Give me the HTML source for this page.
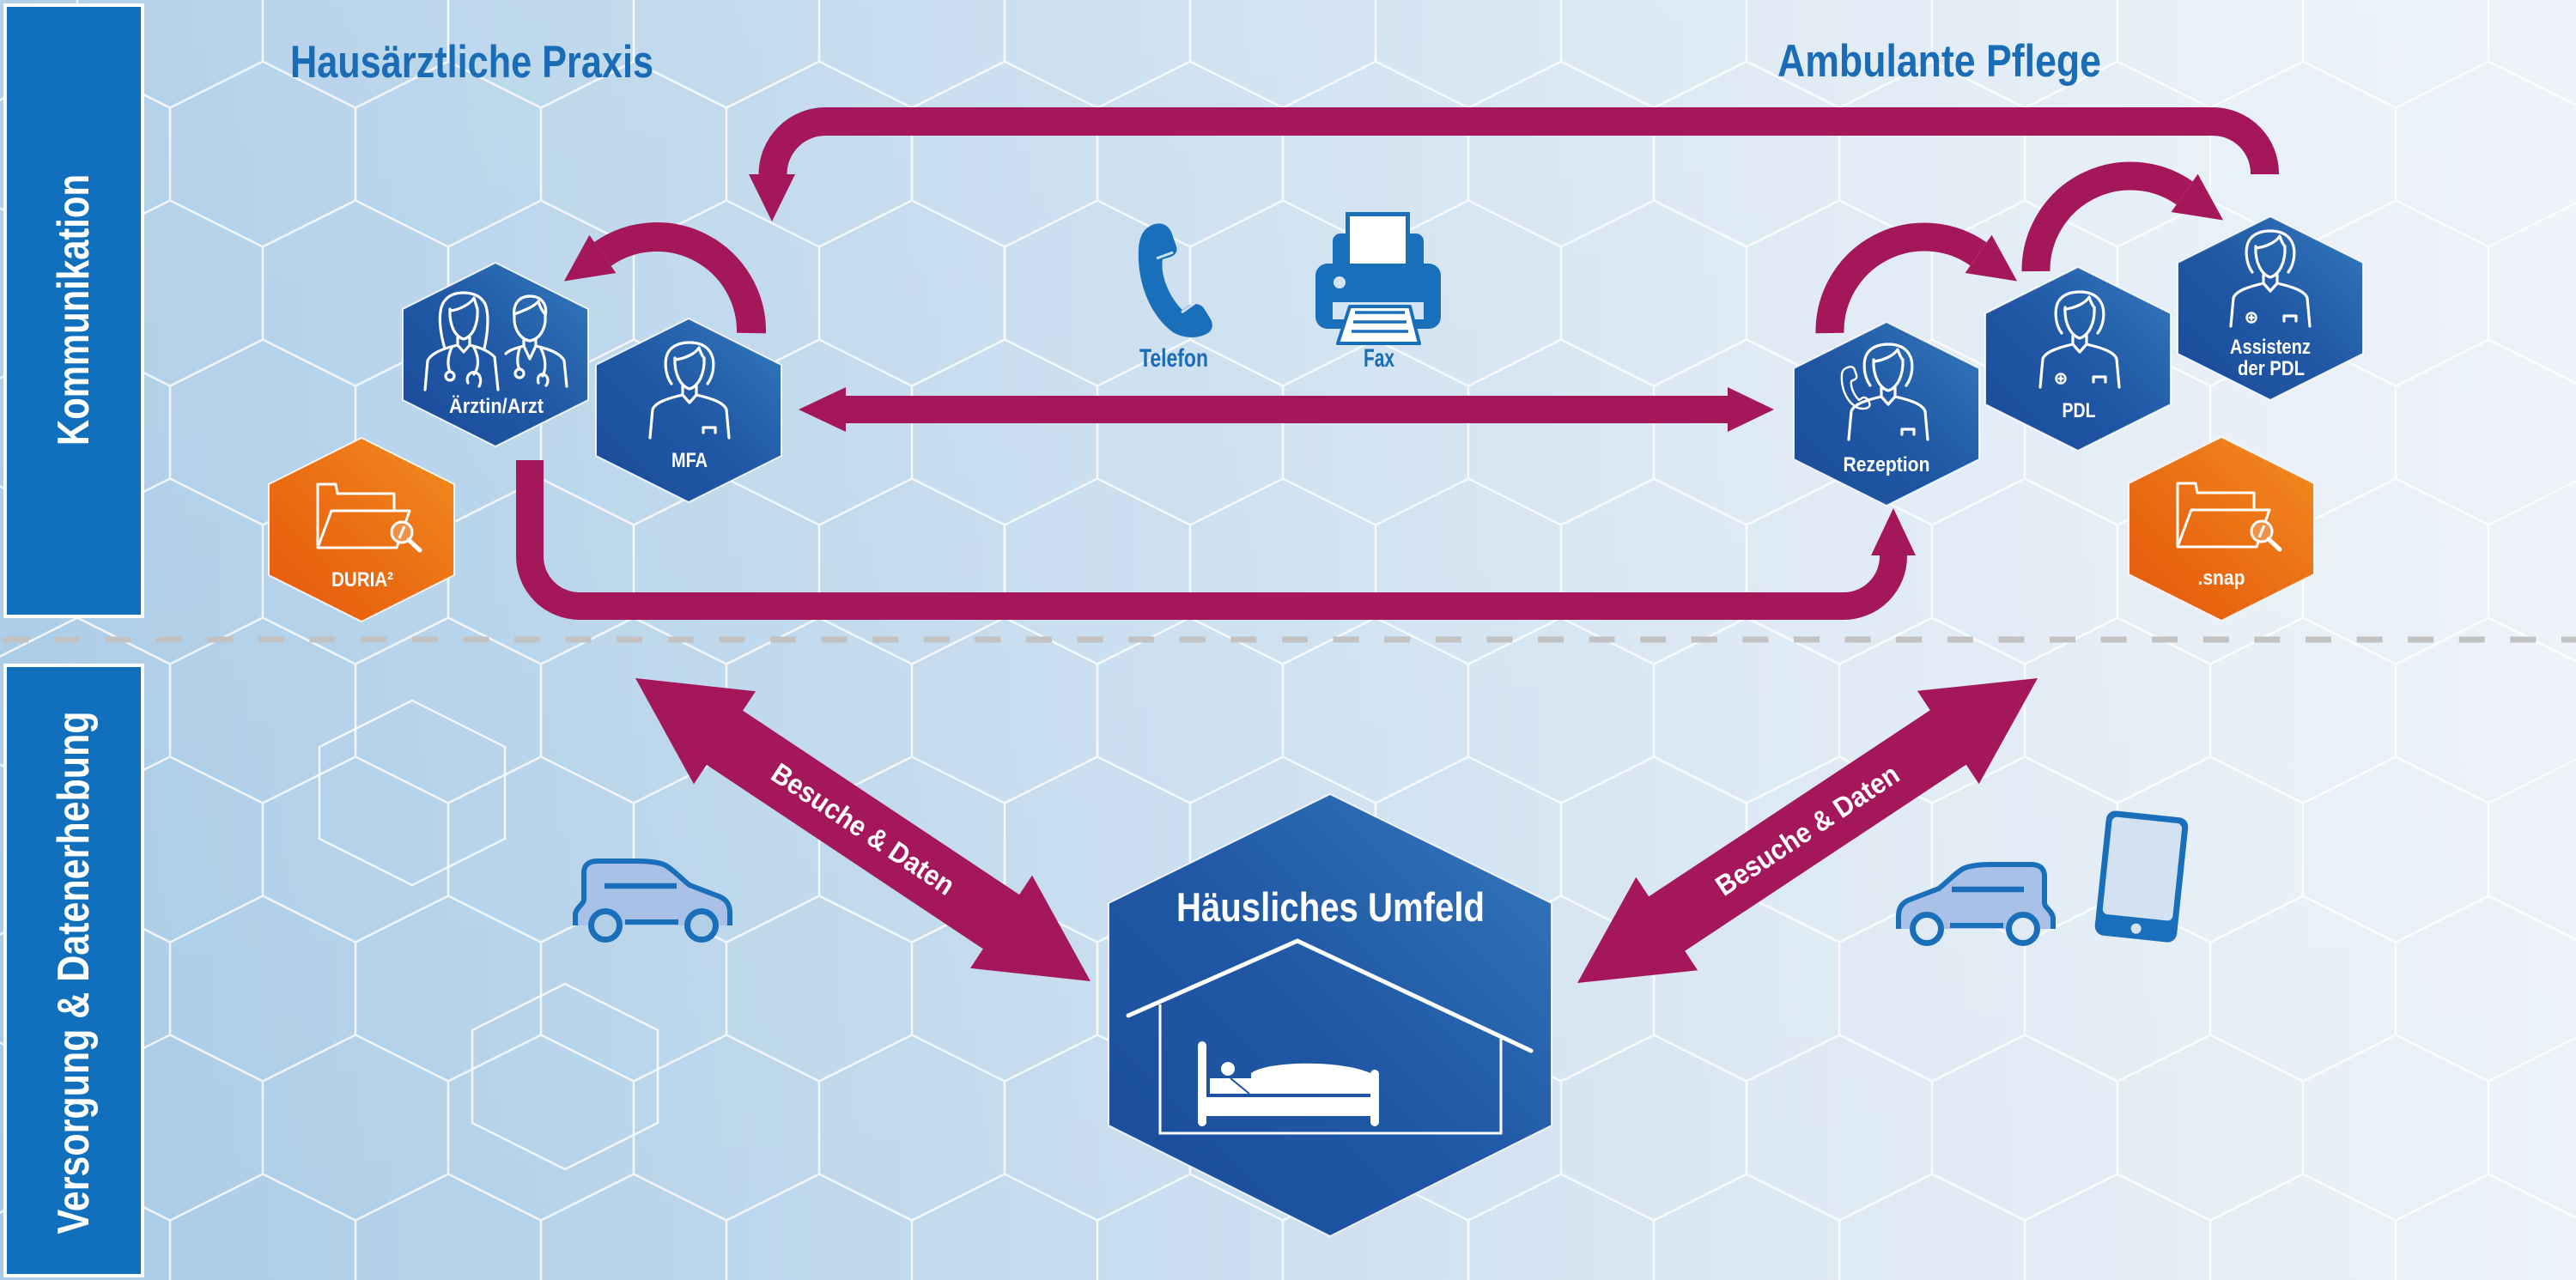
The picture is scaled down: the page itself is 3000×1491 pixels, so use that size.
<!DOCTYPE html>
<html><head><meta charset="utf-8">
<style>
html,body{margin:0;padding:0;width:3000px;height:1491px;overflow:hidden;background:#c4dbee}
svg{display:block}
text{font-family:"Liberation Sans",Arial,sans-serif;font-weight:700}
</style></head>
<body>
<svg width="3000" height="1491" viewBox="0 0 3000 1491" xmlns="http://www.w3.org/2000/svg">
<defs>
  <linearGradient id="bg" x1="0" y1="0" x2="1" y2="0">
    <stop offset="0" stop-color="#a8cae6"/>
    <stop offset="0.23" stop-color="#b8d4ea"/>
    <stop offset="0.5" stop-color="#cde0f0"/>
    <stop offset="0.7" stop-color="#dde9f4"/>
    <stop offset="0.87" stop-color="#e6eef7"/>
    <stop offset="1" stop-color="#edf2f9"/>
  </linearGradient>
  <linearGradient id="bgv" x1="0" y1="0" x2="0" y2="1">
    <stop offset="0" stop-color="#ffffff" stop-opacity="0.12"/>
    <stop offset="1" stop-color="#ffffff" stop-opacity="0"/>
  </linearGradient>
  <linearGradient id="blueHex" x1="1" y1="0" x2="0" y2="1">
    <stop offset="0" stop-color="#3479bd"/>
    <stop offset="0.5" stop-color="#2058a5"/>
    <stop offset="1" stop-color="#1a4c9b"/>
  </linearGradient>
  <linearGradient id="orgHex" x1="1" y1="0" x2="0" y2="1">
    <stop offset="0" stop-color="#f28c20"/>
    <stop offset="0.6" stop-color="#ea6a12"/>
    <stop offset="1" stop-color="#e65a0c"/>
  </linearGradient>
  <pattern id="hx" x="90" y="17.5" width="216" height="324" patternUnits="userSpaceOnUse">
    <path d="M0,0 V54 L108,108 L216,54 V0 M108,108 V216 L0,270 V324 M108,216 L216,270 V324" fill="none" stroke="#ffffff" stroke-width="2.6" stroke-opacity="0.78"/>
  </pattern>
  <g id="nurse" fill="none" stroke="#fff" stroke-width="3.2" stroke-linecap="round" stroke-linejoin="round">
    <path d="M-21,47 C-29,36 -30,18 -24,9 C-18,1 -9,-1 0,-1 C10,-1 19,2 24,10 C30,19 29,36 21,47"/>
    <path d="M-17,17 C-18,36 -10,50 0,53 C10,50 18,36 17,17"/>
    <path d="M-17,19 C-6,18 7,12 11,5 C13,11 15,15 17,17"/>
    <path d="M-8,50 L-8,60 L0,69 L8,60 L8,50"/>
    <path d="M-8,60 C-26,64 -40,69 -43,77 L-46,110 M8,60 C26,64 40,69 43,77 L46,110"/>
    <path d="M16,104 V98 H30 V104"/>
  </g>
  <g id="cross" fill="none" stroke="#fff" stroke-width="2.4">
    <circle cx="-22" cy="100" r="5.5"/>
    <path d="M-25.5,100 H-18.5 M-22,96.5 V103.5"/>
  </g>
  <g id="folder" fill="none" stroke="#fff" stroke-width="3" stroke-linejoin="round">
    <path d="M-51,21 V-53 H-30 L-28,-42 H38 V-22"/>
    <path d="M-51,21 L-35,-22 H56 L41,21 Z"/>
    <circle cx="47" cy="3" r="12" fill="#f0924a"/>
    <path d="M55,12 L68,24" stroke-width="5" stroke-linecap="round"/>
    <path d="M44,10 L50,-4" stroke-width="3"/>
  </g>
  <g id="car">
    <path d="M1,77 L1,62 C1,52 6,46 14,43 L48,30 C58,22 66,13 76,7 C84,3 96,2 110,2 L155,2 C166,2 171,7 171,16 L171,47 C171,52 180,56 181,64 L181,77 Z" fill="#a9c1e6"/>
    <path d="M1,77 L1,62 C1,52 6,46 14,43 L48,30 C58,22 66,13 76,7 C84,3 96,2 110,2 L155,2 C166,2 171,7 171,16 L171,47 C171,52 180,56 181,64 L181,77" fill="none" stroke="#1a6fbb" stroke-width="6" stroke-linejoin="round"/>
    <path d="M63,31 H147" stroke="#1a6fbb" stroke-width="6.5"/>
    <path d="M61,73 H123" stroke="#1a6fbb" stroke-width="6"/>
  </g>
  <path id="phonep" d="M6.62 10.79c1.44 2.83 3.76 5.14 6.59 6.59l2.2-2.2c.27-.27.67-.36 1.02-.24 1.12.37 2.330.57 3.57.57.55 0 1 .45 1 1V20c0 .55-.45 1-1 1-9.39 0-17-7.610-17-17 0-.55.45-1 1-1h3.5c.55 0 1 .45 1 1 0 1.25.2 2.45.57 3.57.11.35.03.74-.25 1.02l-2.2 2.2z"/>
</defs>

<!-- background -->
<rect x="0" y="0" width="3000" height="1491" fill="url(#bg)"/>
<rect x="0" y="0" width="3000" height="1491" fill="url(#bgv)"/>
<rect x="0" y="0" width="3000" height="1491" fill="url(#hx)"/>
<g fill="none" stroke="#fff" stroke-width="2.6" stroke-opacity="0.78">
  <polygon points="480,816 588,870 588,977 480,1031 372,977 372,870"/>
  <polygon points="658,1146 766,1200 766,1308 658,1362 550,1308 550,1200"/>
</g>

<!-- dashed separator -->
<line x1="3" y1="745" x2="3000" y2="745" stroke="#c2c2c2" stroke-width="7" stroke-dasharray="30 29.6"/>

<!-- sidebars -->
<rect x="6" y="6" width="160" height="712" fill="#1170bd" stroke="#fff" stroke-width="4"/>
<rect x="6" y="775" width="160" height="711" fill="#1170bd" stroke="#fff" stroke-width="4"/>
<text transform="translate(103,361) rotate(-90)" x="0" y="0" text-anchor="middle" font-size="52" fill="#fff" textLength="316" lengthAdjust="spacingAndGlyphs">Kommunikation</text>
<text transform="translate(103,1133) rotate(-90)" x="0" y="0" text-anchor="middle" font-size="52" fill="#fff" textLength="609" lengthAdjust="spacingAndGlyphs">Versorgung &amp; Datenerhebung</text>

<!-- titles -->
<text x="549.5" y="90" text-anchor="middle" font-size="53" fill="#1a6cb6" textLength="423" lengthAdjust="spacingAndGlyphs">Hausärztliche Praxis</text>
<text x="2258.5" y="89" text-anchor="middle" font-size="53" fill="#1a6cb6" textLength="377" lengthAdjust="spacingAndGlyphs">Ambulante Pflege</text>

<!-- arrows -->
<g fill="none" stroke="#a4185b" stroke-linecap="butt">
  <path d="M2637.5,203 L2637.5,202 A60.5,60.5 0 0 0 2577,141.5 L961.5,141.5 A61.5,61.5 0 0 0 900,203" stroke-width="33"/>
  <path d="M617,536 L617,648 A58,58 0 0 0 675,706 L2147,706 A58,58 0 0 0 2205,648 L2205,647" stroke-width="32"/>
  <path d="M875,388 A110,110 0 0 0 701.9,295.9" stroke-width="34"/>
  <path d="M2131,388 A110,110 0 0 1 2304.1,295.9" stroke-width="33"/>
  <path d="M2371,316 A110,110 0 0 1 2544.1,224.9" stroke-width="33"/>
</g>
<g fill="#a4185b">
  <polygon points="872,203 926,203 899,258"/>
  <polygon points="2179,647 2231,647 2205,592"/>
  <polygon points="686.4,273.8 717.4,318 656.9,327.5"/>
  <polygon points="2319.6,273.8 2288.6,318 2349.1,327.5"/>
  <polygon points="2559.6,202.8 2528.6,247 2589.1,256.5"/>
  <rect x="984" y="461" width="1029" height="32"/>
  <polygon points="985,451 930,477 985,503"/>
  <polygon points="2012,451 2066,477 2012,503"/>
  <polygon points="740,790 808,913.4 822.9,890.9 1144.9,1105.3 1130,1127.8 1270,1143 1202,1019.6 1187.1,1042.1 865.1,827.7 880,805.2"/>
  <polygon points="2373,790 2304.7,913.2 2289.8,890.7 1962.2,1107.7 1977.1,1130.2 1837,1145 1905.3,1021.8 1920.2,1044.3 2247.8,827.3 2232.9,804.8"/>
</g>
<text transform="translate(1005,966) rotate(33.7)" x="0" y="0" dy="11" text-anchor="middle" font-size="33" fill="#fff" textLength="248" lengthAdjust="spacingAndGlyphs">Besuche &amp; Daten</text>
<text transform="translate(2105,967) rotate(-33.5)" x="0" y="0" dy="11" text-anchor="middle" font-size="33" fill="#fff" textLength="248" lengthAdjust="spacingAndGlyphs">Besuche &amp; Daten</text>

<!-- phone & fax -->
<path d="M1342,262 C1352,258 1360,262 1364,270 L1370,287 C1372,294 1368,298 1361,300 L1354,302 C1351,320 1361,345 1377,361 L1384,356 C1390,352 1398,354 1402,359 L1410,372 C1414,380 1411,386 1405,389 C1393,395 1378,394 1366,387 C1340,368 1324,330 1326,290 C1327,275 1332,266 1342,262 Z" fill="#1a6fbb"/>
<path d="M1347,301 L1366,294 M1376,364 L1393,352" stroke="#d0e2f1" stroke-width="3"/>
<text x="1367" y="427" text-anchor="middle" font-size="30" fill="#1a6cb6" textLength="80" lengthAdjust="spacingAndGlyphs">Telefon</text>
<g>
  <rect x="1552" y="272" width="106" height="45" rx="9" fill="#1a6fbb"/>
  <rect x="1569.5" y="249.5" width="70" height="62" fill="#fff" stroke="#1a6fbb" stroke-width="5"/>
  <rect x="1532" y="307" width="146" height="76" rx="14" fill="#1a6fbb"/>
  <circle cx="1560" cy="329" r="7" fill="#d3e4f2"/>
  <rect x="1552" y="352" width="106" height="20" fill="#d3e4f2"/>
  <polygon points="1572,357 1642,357 1653,400 1558,400" fill="#fff" stroke="#1a6fbb" stroke-width="4" stroke-linejoin="round"/>
  <path d="M1578,364 H1636 M1576,375 H1638 M1574,386 H1640" stroke="#1a6fbb" stroke-width="3.5"/>
</g>
<text x="1606" y="427" text-anchor="middle" font-size="30" fill="#1a6cb6" textLength="36" lengthAdjust="spacingAndGlyphs">Fax</text>

<!-- hex nodes -->
<g stroke="#ffffff" stroke-width="2" stroke-opacity="0.85">
  <polygon points="577,306 685,360 685,466 577,520 469,466 469,360" fill="url(#blueHex)"/>
  <polygon points="802,371 910,425 910,531 802,585 694,531 694,425" fill="url(#blueHex)"/>
  <polygon points="421,510 529,564 529,670 421,724 313,670 313,564" fill="url(#orgHex)"/>
  <polygon points="2197,375 2305,429 2305,535 2197,589 2089,535 2089,429" fill="url(#blueHex)"/>
  <polygon points="2420,311 2528,365 2528,471 2420,525 2312,471 2312,365" fill="url(#blueHex)"/>
  <polygon points="2644,252 2752,306 2752,412 2644,466 2536,412 2536,306" fill="url(#blueHex)"/>
  <polygon points="2587,509 2695,563 2695,669 2587,723 2479,669 2479,563" fill="url(#orgHex)"/>
  <polygon points="1549,925 1807,1052 1807,1311 1549,1440 1291,1311 1291,1052" fill="url(#blueHex)"/>
</g>

<!-- doctor icons -->
<g fill="none" stroke="#fff" stroke-width="3.2" stroke-linecap="round" stroke-linejoin="round">
  <g transform="translate(540,342)">
    <path d="M-22,64 C-28,44 -30,22 -24,11 C-18,1 -9,-1 0,-1 C11,-1 20,3 25,12 C30,24 28,46 24,64"/>
    <path d="M-16,18 C-17,37 -10,50 0,53 C10,50 17,37 16,18"/>
    <path d="M-16,20 C-5,19 8,12 12,5 C14,11 15,15 16,18"/>
    <path d="M-7,51 V60 L0,68 L7,60 V51"/>
    <path d="M-7,60 C-25,64 -38,70 -42,78 L-45,112 M7,60 C20,63 30,67 36,74 L40,112"/>
    <path d="M-14,63 C-19,74 -19,84 -16,91"/>
    <circle cx="-16" cy="96" r="5"/>
    <path d="M12,63 C18,74 18,86 12,94 M5,104 C2,96 8,90 14,92 C20,94 21,102 18,108"/>
  </g>
  <g transform="translate(617,346)">
    <path d="M-18,22 C-20,8 -12,-1 0,-1 C13,-1 21,8 18,22 C19,36 12,49 0,51 C-12,49 -19,36 -18,22"/>
    <path d="M-18,20 C-8,16 4,12 10,5 C12,12 15,17 18,20"/>
    <path d="M-7,49 V57 M7,49 V57"/>
    <path d="M-7,57 L0,72 L7,57"/>
    <path d="M-7,57 C-18,60 -24,62 -28,66 M7,57 C24,61 36,66 40,74 L43,104"/>
    <path d="M-12,60 C-15,70 -15,78 -12,84"/>
    <circle cx="-12" cy="89" r="5"/>
    <path d="M13,60 C19,72 19,84 15,92 M10,100 C8,93 12,89 16,90 C22,92 22,99 19,103"/>
  </g>
</g>
<use href="#nurse" transform="translate(803,400)"/>
<use href="#nurse" transform="translate(2199,402)"/>
<path d="M2152,428 C2156,426 2159,428 2160,431 L2162,437 C2163,440 2161,442 2158,443 L2156,444 C2155,451 2159,460 2165,466 L2168,464 C2170,462 2173,463 2175,465 L2177,469 C2178,472 2177,474 2175,475 C2170,477 2164,476 2160,473 C2150,466 2144,452 2145,437 C2145,432 2148,429 2152,428 Z" fill="none" stroke="#fff" stroke-width="2.4" stroke-linejoin="round"/>
<use href="#nurse" transform="translate(2422,341)"/>
<use href="#cross" transform="translate(2422,341)"/>
<use href="#nurse" transform="translate(2644,270)"/>
<use href="#cross" transform="translate(2644,270)"/>
<use href="#folder" transform="translate(421,617)"/>
<use href="#folder" transform="translate(2587,616)"/>

<!-- node labels -->
<g fill="#fff" text-anchor="middle" font-size="24">
  <text x="578" y="481" textLength="110" lengthAdjust="spacingAndGlyphs">Ärztin/Arzt</text>
  <text x="803" y="544" textLength="42" lengthAdjust="spacingAndGlyphs">MFA</text>
  <text x="422" y="683" textLength="72" lengthAdjust="spacingAndGlyphs">DURIA²</text>
  <text x="2197" y="549" textLength="101" lengthAdjust="spacingAndGlyphs">Rezeption</text>
  <text x="2421" y="486" textLength="39" lengthAdjust="spacingAndGlyphs">PDL</text>
  <text x="2644" y="412" textLength="94" lengthAdjust="spacingAndGlyphs">Assistenz</text>
  <text x="2645" y="437" textLength="78" lengthAdjust="spacingAndGlyphs">der PDL</text>
  <text x="2587" y="681" textLength="55" lengthAdjust="spacingAndGlyphs">.snap</text>
</g>

<!-- house hex content -->
<text x="1549.5" y="1073" text-anchor="middle" font-size="47" fill="#fff" textLength="359" lengthAdjust="spacingAndGlyphs">Häusliches Umfeld</text>
<polyline points="1314,1183 1511,1096 1783,1224" fill="none" stroke="#fff" stroke-width="5" stroke-linecap="round" stroke-linejoin="miter"/>
<path d="M1351,1170 V1320 H1748 V1210" fill="none" stroke="#fff" stroke-width="3"/>
<g fill="#fff">
  <rect x="1395" y="1213" width="10" height="99" rx="5"/>
  <rect x="1596" y="1246" width="10" height="66" rx="5"/>
  <rect x="1395" y="1278" width="211" height="22"/>
  <rect x="1409" y="1256" width="187" height="18"/>
  <path d="M1457,1274 V1250 C1475,1236 1560,1234 1596,1250 V1274 Z"/>
  <circle cx="1430" cy="1245" r="8"/>
</g>
<path d="M1433,1256 L1455,1274" stroke="#1d52a0" stroke-width="2"/>

<!-- cars & tablet -->
<g transform="translate(851,1001) scale(-1,1)">
  <use href="#car"/>
  <circle cx="34" cy="77" r="16.5" fill="#b3cfe8" stroke="#1a6fbb" stroke-width="7"/>
  <circle cx="146" cy="77" r="16.5" fill="#b3cfe8" stroke="#1a6fbb" stroke-width="7"/>
</g>
<g transform="translate(2210,1005)">
  <use href="#car"/>
  <circle cx="34" cy="77" r="16.5" fill="#e0eaf5" stroke="#1a6fbb" stroke-width="7"/>
  <circle cx="146" cy="77" r="16.5" fill="#e0eaf5" stroke="#1a6fbb" stroke-width="7"/>
</g>
<g transform="translate(2494,1021) rotate(6)">
  <rect x="-48" y="-73" width="96" height="146" rx="11" fill="#1a6fbb"/>
  <rect x="-41" y="-66" width="82" height="114" rx="6" fill="#d3e2f3"/>
  <circle cx="0" cy="61" r="6" fill="#d3e2f3"/>
</g>
</svg>
</body></html>
